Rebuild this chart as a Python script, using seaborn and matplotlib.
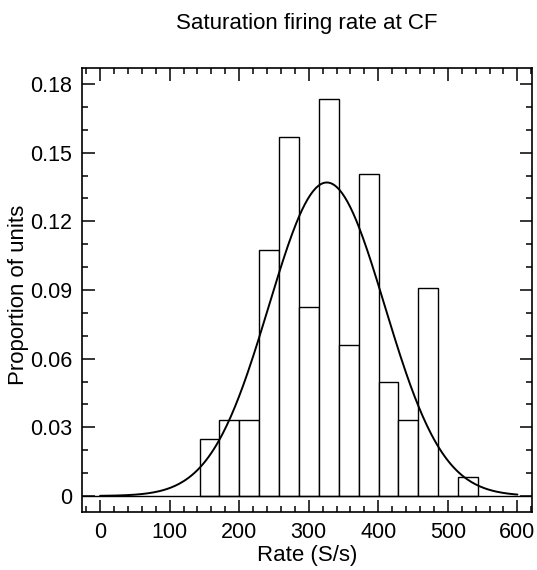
import numpy as np
import pandas as pd
import matplotlib
matplotlib.use("Agg")
import matplotlib.pyplot as plt
from matplotlib.ticker import MultipleLocator, FuncFormatter
import seaborn as sns

# histogram: left edge of first bin, bin width, counts per bin
bin_start = 143.0
bin_width = 28.6
counts = [3, 4, 4, 13, 19, 10, 21, 8, 17, 6, 4, 11, 0, 1]

# fitted gaussian (mean, sd) drawn over 0..600
fit_mean = 326.0
fit_sd = 83.3

sns.set_style("ticks")
plt.rcParams['font.family'] = ['Liberation Sans', 'DejaVu Sans']
plt.rcParams['text.color'] = 'black'
plt.rcParams['axes.labelcolor'] = 'black'

counts = np.array(counts, dtype=float)
df = pd.DataFrame({
    'rate': bin_start + bin_width * (np.arange(len(counts)) + 0.5),
    'prop': counts / counts.sum(),
})
bin_end = bin_start + bin_width * len(counts)

xs = np.linspace(0, 600, 301)
ys = bin_width * np.exp(-0.5 * ((xs - fit_mean) / fit_sd) ** 2) / (fit_sd * np.sqrt(2 * np.pi))

fig = plt.figure(figsize=(5.37, 5.70), dpi=100)
ax = fig.add_axes([0.1527, 0.1018, 0.838, 0.7789])

sns.histplot(data=df, x='rate', weights='prop', binwidth=bin_width,
             binrange=(bin_start, bin_end), stat='count',
             color='white', edgecolor='black', linewidth=1.0, alpha=1, ax=ax)
sns.lineplot(x=xs, y=ys, color='black', linewidth=1.4, ax=ax)
ax.axhline(0, color='black', linewidth=1.0)

ax.set_xlim(-26, 621)
ax.set_ylim(-0.007, 0.187)
ax.xaxis.set_major_locator(MultipleLocator(100))
ax.xaxis.set_minor_locator(MultipleLocator(20))
ax.yaxis.set_major_locator(MultipleLocator(0.03))
ax.yaxis.set_minor_locator(MultipleLocator(0.01))
ax.yaxis.set_major_formatter(FuncFormatter(lambda v, p: "0" if abs(v) < 1e-9 else f"{v:.2f}"))

ax.tick_params(which='both', direction='in', top=True, right=True, colors='black', width=1.1)
ax.tick_params(which='major', length=9, labelsize=15.5, pad=7)
ax.tick_params(which='minor', length=4.5)
for s in ax.spines.values():
    s.set_linewidth(1.2)
    s.set_color('black')

ax.set_xlabel("Rate (S/s)", fontsize=16, labelpad=2)
ax.set_ylabel("Proportion of units", fontsize=16)
ax.yaxis.set_label_coords(-0.118, 0.49)
ax.set_title("Saturation firing rate at CF", fontsize=16, pad=28)

fig.savefig("out.png", dpi=100)
